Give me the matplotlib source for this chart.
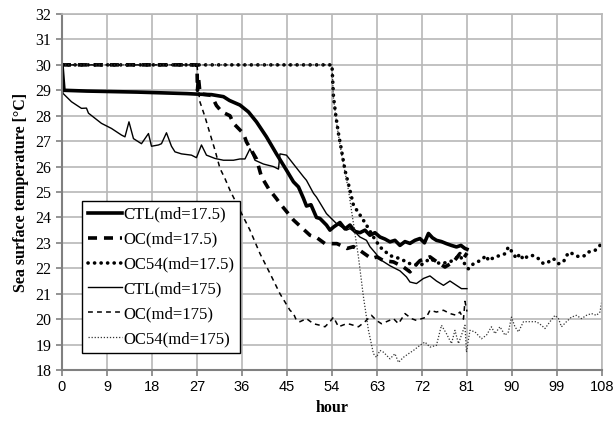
import matplotlib
matplotlib.use('Agg')
import matplotlib.pyplot as plt

plt.rcParams['lines.scale_dashes'] = False

# CTL(md=17.5)
ctl1_t = [0, 0.4, 5, 10, 15, 20, 25, 27, 29.9, 32.3, 33.5, 35.6, 37.3, 38.9, 40.9, 42.9, 44.9, 46.3, 47.3,
          48.3, 48.9, 49.8, 50.9, 51.6, 52.9, 53.6, 54.3, 55.6, 56.6, 57.6, 58.6, 59.6, 60.6, 61.6, 62.6, 63.6,
          64.6, 65.6, 66.6, 67.6, 68.6, 69.6, 70.6, 71.6, 72.5, 73.3, 74.1, 74.9, 75.9, 76.9, 77.9, 78.9, 79.8,
          80.6, 81]
ctl1_v = [30, 29.0, 28.97, 28.95, 28.93, 28.9, 28.87, 28.85, 28.83, 28.75, 28.6, 28.42, 28.15, 27.76, 27.17,
          26.5, 25.86, 25.4, 25.2, 24.75, 24.45, 24.5, 24.0, 23.96, 23.7, 23.5, 23.62, 23.8, 23.55, 23.7, 23.45,
          23.4, 23.5, 23.3, 23.4, 23.23, 23.15, 23.04, 23.1, 22.9, 23.05, 22.98, 23.1, 23.17, 23.0, 23.37, 23.2,
          23.1, 23.05, 22.97, 22.9, 22.84, 22.9, 22.78, 22.75]

# OC(md=17.5)
oc1_t = [0, 27, 27.1, 27.3, 27.6, 28, 29.9, 30.9, 32, 33.6, 34.3, 36.3, 36.9, 38.9, 39.9, 41.3, 42.9, 43.6, 46.3,
         49.6, 51.0, 52.6, 55, 57, 58.3, 59.6, 61.9, 63.0, 64.3, 66.3, 68.3, 69.6, 70.6, 71.6, 73.6, 75, 76.6,
         78.3, 79.6, 80.3, 81]
oc1_v = [30, 30, 29.0, 29.5, 28.9, 28.85, 28.8, 28.4, 28.15, 28.0, 27.7, 27.3, 26.97, 26.3, 25.6, 25.14, 24.74,
         24.55, 23.9, 23.3, 23.2, 22.97, 22.97, 22.78, 22.85, 22.7, 22.38, 22.45, 22.3, 22.25, 22.05, 21.86,
         22.1, 22.3, 22.45, 22.25, 22.05, 22.25, 22.58, 22.38, 22.6]

# OC54(md=17.5)
oc54_1_t = [0, 54, 54.3, 54.8, 55.3, 55.9, 56.6, 57.6, 58.3, 59.6, 60.9, 62.3, 63.6, 65.6, 67.6, 69.6, 71.6,
            73.6, 75.6, 77.6, 79.6, 80.9, 81.3, 82.3, 83.6, 84.9, 85.3, 86.6, 87.6, 88.6, 89.3, 90.3, 90.9,
            91.6, 92.3, 93.3, 94.3, 95.3, 96.3, 97.3, 98.3, 99.3, 100.3, 100.9, 101.6, 102.6, 103.6, 104.6,
            105.3, 106.6, 107.6, 108]
oc54_1_v = [30, 30, 28.75, 27.96, 27.3, 26.65, 25.86, 25.07, 24.48, 24.1, 23.7, 23.23, 22.84, 22.5, 22.38,
            22.18, 22.1, 22.38, 22.18, 22.25, 22.5, 22.05, 21.98, 22.18, 22.3, 22.5, 22.3, 22.45, 22.5, 22.57,
            22.84, 22.57, 22.38, 22.57, 22.34, 22.5, 22.5, 22.38, 22.18, 22.25, 22.38, 22.18, 22.25, 22.5,
            22.64, 22.5, 22.45, 22.5, 22.64, 22.7, 22.9, 23.0]

# CTL(md=175)
ctl2_t = [0, 0.2, 1.9, 3.9, 4.9, 5.3, 6.6, 7.9, 9.9, 11.9, 12.6, 13.4, 14.3, 15.9, 17.3, 17.9, 19.3, 19.9, 20.9,
          21.9, 22.6, 23.9, 25.9, 26.9, 27.9, 28.9, 30.6, 32.3, 34.3, 35.6, 36.6, 37.6, 38.6, 40.3, 42.3, 43.3,
          43.6, 44.9, 46.3, 46.9, 48.3, 48.9, 50.3, 50.9, 52.9, 54.9, 56.9, 57.6, 58.9, 59.6, 60.9, 61.6, 62.9,
          63.6, 65.6, 67.6, 68.9, 69.6, 70.9, 72.3, 73.6, 74.9, 76.3, 77.6, 78.9, 79.9, 81]
ctl2_v = [30, 28.88, 28.55, 28.29, 28.3, 28.1, 27.9, 27.7, 27.5, 27.24, 27.17, 27.76, 27.1, 26.9, 27.3, 26.8,
          26.85, 26.9, 27.33, 26.8, 26.58, 26.5, 26.45, 26.35, 26.85, 26.45, 26.32, 26.25, 26.25, 26.3, 26.3,
          26.7, 26.25, 26.1, 26.0, 25.9, 26.5, 26.45, 26.1, 25.95, 25.6, 25.46, 24.95, 24.8, 24.15, 23.76, 23.5,
          23.56, 23.37, 23.23, 23.1, 22.85, 22.55, 22.35, 22.1, 21.9, 21.66, 21.46, 21.4, 21.6, 21.7, 21.5,
          21.33, 21.5, 21.33, 21.2, 21.2]

# OC(md=175)
oc2_t = [0, 27, 27.2, 27.5, 28.6, 29.6, 30.6, 31.6, 32.6, 33.6, 35.6, 37.6, 39.6, 41.6, 43.6, 45.6, 46.3, 46.9,
         47.6, 48.9, 50.3, 51.6, 52.6, 53.6, 54.3, 55.3, 56.9, 57.6, 59.3, 60.6, 61.9, 62.9, 63.9, 64.9, 66.3,
         67.3, 68.6, 69.9, 70.9, 72.9, 73.6, 74.9, 76.3, 77.6, 78.9, 79.6, 80.3, 80.6, 81]
oc2_v = [30, 30, 29.6, 28.6, 27.96, 27.3, 26.65, 25.93, 25.53, 25.07, 24.28, 23.5, 22.58, 21.8, 21.0, 20.35,
         20.22, 19.95, 19.9, 20.02, 19.82, 19.76, 19.7, 19.9, 20.08, 19.7, 19.82, 19.8, 19.7, 19.9, 20.15,
         19.95, 19.82, 19.9, 20.02, 19.82, 20.22, 20.02, 19.95, 20.08, 20.35, 20.28, 20.35, 20.22, 20.15,
         20.28, 20.0, 20.7, 20.3]

# OC54(md=175)
oc54_2_t = [0, 54, 54.3, 55, 56, 57.3, 58.3, 59.3, 60.3, 61.3, 62.3, 62.9, 63.6, 64.3, 65.6, 66.6, 67.3, 68.3,
            69.3, 70.3, 71.6, 72.6, 73.6, 74.9, 75.9, 76.9, 77.9, 78.6, 79.3, 80.6, 80.9, 81.6, 82.6, 83.9,
            84.9, 85.9, 86.6, 87.6, 88.6, 89.3, 89.9, 90.6, 91.3, 92.3, 93.6, 94.9, 95.9, 96.6, 97.6, 98.6,
            99.3, 99.9, 100.9, 101.9, 102.9, 103.9, 104.9, 105.9, 106.9, 107.6, 108]
oc54_2_v = [30, 30, 28.7, 27.6, 26.4, 25.07, 23.76, 22.44, 20.87, 19.56, 18.64, 18.5, 18.77, 18.7, 18.44,
            18.64, 18.3, 18.5, 18.64, 18.77, 18.97, 19.1, 18.9, 18.97, 19.76, 19.43, 19.04, 19.56, 19.04,
            19.76, 18.7, 19.56, 19.5, 19.23, 19.37, 19.7, 19.43, 19.7, 19.37, 19.5, 20.08, 19.7, 19.5, 19.9,
            19.9, 19.9, 19.76, 19.63, 19.9, 20.15, 20.02, 19.7, 19.9, 20.08, 20.15, 20.02, 20.15, 20.22,
            20.15, 20.28, 20.74]

labels = ['CTL(md=17.5)', 'OC(md=17.5)', 'OC54(md=17.5)', 'CTL(md=175)', 'OC(md=175)', 'OC54(md=175)']
xticks = list(range(0, 109, 9))
yticks = list(range(18, 33))

fig = plt.figure(figsize=(6.16, 4.25), dpi=100)
ax = fig.add_axes([0.1006, 0.1294, 0.8766, 0.8376])

ax.plot(ctl1_t, ctl1_v, color='black', lw=2.6, label=labels[0])
ax.plot(oc1_t, oc1_v, color='black', lw=2.6, linestyle=(0, (6.5, 5)), label=labels[1])
ax.plot(oc54_1_t, oc54_1_v, color='black', lw=2.6, linestyle=(0, (0.1, 4.6)),
        dash_capstyle='round', label=labels[2])
ax.plot(ctl2_t, ctl2_v, color='black', lw=1.0, label=labels[3])
ax.plot(oc2_t, oc2_v, color='black', lw=1.1, linestyle=(0, (3.5, 3)), label=labels[4])
ax.plot(oc54_2_t, oc54_2_v, color='#333333', lw=0.9, linestyle=(0, (0.9, 1.3)), label=labels[5])

ax.set_xlim(0, 108)
ax.set_ylim(18, 32)
ax.set_xticks(xticks)
ax.set_yticks(yticks)
ax.grid(True, color='#b8b8b8', lw=1.2)
ax.set_axisbelow(True)

for s in ['top', 'right']:
    ax.spines[s].set_color('#b8b8b8')
    ax.spines[s].set_linewidth(1.2)
for s in ['left', 'bottom']:
    ax.spines[s].set_color('#808080')
    ax.spines[s].set_linewidth(1.5)

ax.tick_params(axis='both', color='#808080', length=4, width=1.2)
for lab in ax.get_yticklabels():
    lab.set_fontfamily(['Liberation Serif', 'DejaVu Serif'])
    lab.set_fontsize(11.5)
for lab in ax.get_xticklabels():
    lab.set_fontfamily(['Liberation Sans Narrow', 'Liberation Sans', 'DejaVu Sans'])
    lab.set_fontsize(10.5)

ax.set_xlabel('hour', fontfamily='Liberation Serif', fontweight='bold', fontsize=11.5, labelpad=4)
ax.set_ylabel('Sea surface temperature [°C]', fontfamily='Liberation Serif', fontweight='bold',
              fontsize=11.5, labelpad=5)

leg = ax.legend(loc='upper left', bbox_to_anchor=(0.038, 0.475), prop={'family': 'Liberation Serif', 'size': 12},
                frameon=True, fancybox=False, edgecolor='black', framealpha=1, handlelength=2.0,
                handletextpad=0.1, labelspacing=0.53, borderpad=0.35, borderaxespad=0)
leg.get_frame().set_linewidth(1.0)

fig.savefig('out.png', dpi=100)
